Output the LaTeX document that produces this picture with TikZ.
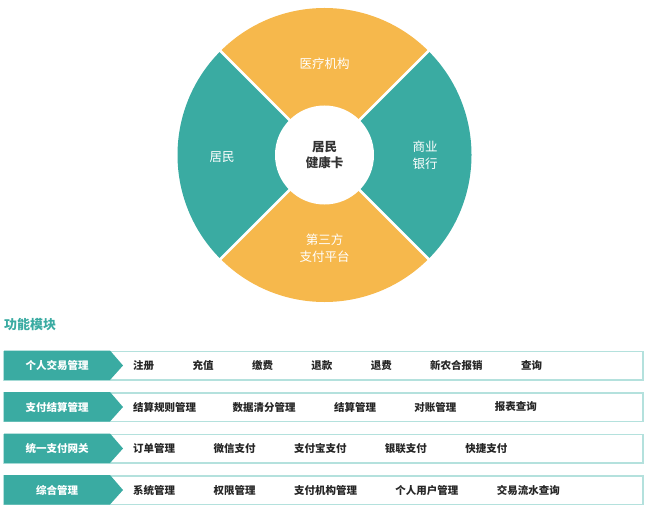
\documentclass[tikz,border=0pt]{standalone}
\usepackage{fontspec}
\newfontfamily\cjk{Noto Sans CJK SC}
\usepackage{xcolor}
\usetikzlibrary{positioning}
\definecolor{wheelteal}{HTML}{3AABA2}
\definecolor{wheelorange}{HTML}{F6B84C}
\definecolor{rowline}{HTML}{B4E1DD}
\definecolor{cardtext}{HTML}{333333}

\begin{document}
\begin{tikzpicture}[x=1pt,y=-1pt,node distance=38pt]

	\tikzset{
		sector label/.style={font=\cjk\fontsize{12.5}{16.5}\selectfont, text=white, align=center, inner sep=0pt},
		card/.style={circle, fill=white, minimum size=99pt, inner sep=0pt, align=center,
			font=\cjk\bfseries\fontsize{12.5}{16.5}\selectfont, text=cardtext},
		module head/.style={font=\cjk\bfseries\fontsize{10.5}{12}\selectfont, text=white, inner sep=0pt},
		module item/.style={font=\cjk\bfseries\fontsize{10.5}{12}\selectfont, text=black!85, inner sep=0pt, anchor=west}
	}

	\useasboundingbox (0,0) rectangle (663,513);

	% wheel
	\coordinate (hub) at (324.5,155);
	\fill[wheelorange] (hub) -- ++(45:147pt) arc[start angle=45, end angle=135, radius=147pt] -- cycle;
	\fill[wheelteal] (hub) -- ++(135:147pt) arc[start angle=135, end angle=225, radius=147pt] -- cycle;
	\fill[wheelorange] (hub) -- ++(225:147pt) arc[start angle=225, end angle=315, radius=147pt] -- cycle;
	\fill[wheelteal] (hub) -- ++(315:147pt) arc[start angle=315, end angle=405, radius=147pt] -- cycle;
	\foreach \a in {45,135,225,315}
		\draw[white, line width=2.5pt] (hub) -- ++(\a:148pt);

	\node[card] (healthcard) at (hub) {居民\\健康卡};
	\node[sector label] (hospital) at (324.5,64) {医疗机构};
	\node[sector label] (resident) at (222,157) {居民};
	\node[sector label] (bank) at (425,155) {商业\\银行};
	\node[sector label] (thirdpay) at (324.5,248) {第三方\\支付平台};

	% modules
	\node[font=\cjk\bfseries\fontsize{13}{15}\selectfont, text=wheelteal, inner sep=0pt, anchor=west] (modules) at (4,325) {功能模块};

	\foreach \y/\name/\title in {365.5/personal/个人交易管理, 407/settle/支付结算管理, 448.5/gateway/统一支付网关, 490/general/综合管理} {
		\draw[rowline, line width=1.5pt] (4,\y-14) rectangle (643,\y+14.5);
		\fill[wheelteal] (4,\y-15) -- (110,\y-15) -- (123,\y) -- (110,\y+14.5) -- (4,\y+14.5) -- cycle;
		\node[module head] (\name) at (57,\y) {\title};
	}

	\node[module item] (personal-1) at (133,365.5) {注册};
	\node[module item, right=of personal-1] (personal-2) {充值};
	\node[module item, right=of personal-2] (personal-3) {缴费};
	\node[module item, right=of personal-3] (personal-4) {退款};
	\node[module item, right=of personal-4] (personal-5) {退费};
	\node[module item, right=of personal-5] (personal-6) {新农合报销};
	\node[module item, right=of personal-6] (personal-7) {查询};

	\node[module item] (settle-1) at (133,407) {结算规则管理};
	\node[module item, right=36pt of settle-1] (settle-2) {数据清分管理};
	\node[module item, right=of settle-2] (settle-3) {结算管理};
	\node[module item, right=of settle-3] (settle-4) {对账管理};
	\node[module item, right=of settle-4] (settle-5) {报表查询};

	\node[module item] (gateway-1) at (133,448.5) {订单管理};
	\node[module item, right=of gateway-1] (gateway-2) {微信支付};
	\node[module item, right=of gateway-2] (gateway-3) {支付宝支付};
	\node[module item, right=of gateway-3] (gateway-4) {银联支付};
	\node[module item, right=of gateway-4] (gateway-5) {快捷支付};

	\node[module item] (general-1) at (133,490) {系统管理};
	\node[module item, right=of general-1] (general-2) {权限管理};
	\node[module item, right=of general-2] (general-3) {支付机构管理};
	\node[module item, right=of general-3] (general-4) {个人用户管理};
	\node[module item, right=of general-4] (general-5) {交易流水查询};

\end{tikzpicture}
\end{document}
